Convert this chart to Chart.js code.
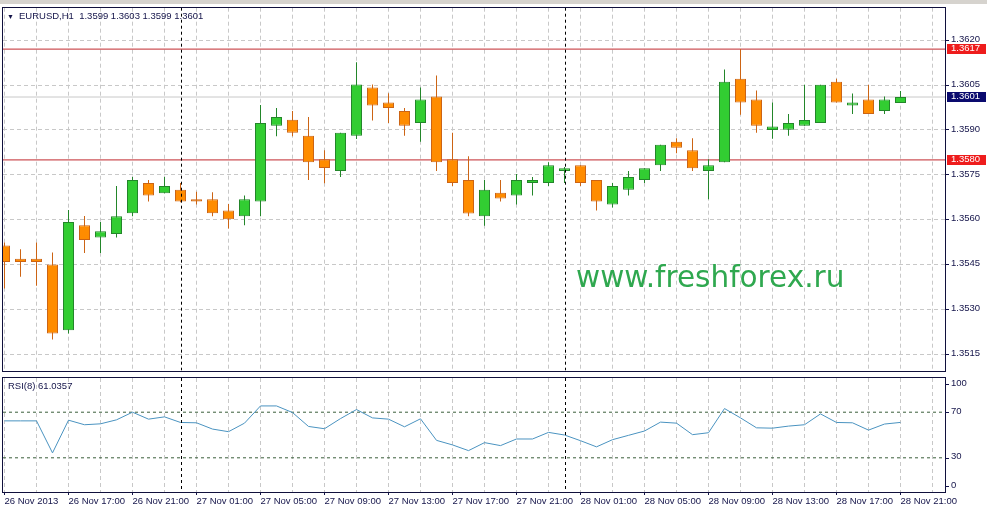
<!DOCTYPE html>
<html lang="en">
<head>
<meta charset="UTF-8">
<title>EURUSD,H1</title>
<script src="https://cdn.jsdelivr.net/npm/chart.js@4.4.1/dist/chart.umd.min.js"></script>
<style>
  body { margin: 0; background: #fff; width: 987px; height: 509px; overflow: hidden; position: relative; font-family: "Liberation Sans", Arial, sans-serif; }
  .topbar { position: absolute; left: 0; top: 0; width: 987px; height: 4px; background: #d6d3ce; }
  #mainChart { position: absolute; left: 0; top: 0; }
  #rsiChart { position: absolute; left: 0; top: 377px; }
  .caption { position: absolute; color: #14144a; font-size: 9.5px; line-height: 12px; white-space: pre; z-index: 2; }
  .caption .tri { font-size: 7px; position: absolute; left: -12px; top: 1px; }
  #watermark { position: absolute; left: 576px; top: 262px; font-family: "DejaVu Sans", sans-serif; font-size: 29.5px; line-height: 30px; color: #2fa84f; z-index: 2; }
</style>
</head>
<body>
<div class="topbar"></div>
<canvas id="mainChart" width="987" height="378"></canvas>
<canvas id="rsiChart" width="987" height="132"></canvas>
<div class="caption" id="priceCaption" style="left:19px; top:10px;"></div>
<div class="caption" id="rsiCaption" style="left:8px; top:380px;"></div>
<div id="watermark">www.freshforex.ru</div>

<script>
// EURUSD H1 candles, 26 Nov 13:00 .. 28 Nov 21:00
const symbol = 'EURUSD,H1';
const opens  = [1.35514, 1.35470, 1.35470, 1.35451, 1.35231, 1.35582, 1.35541, 1.35553, 1.35622, 1.35723,
                1.35689, 1.35700, 1.35669, 1.35669, 1.35631, 1.35612, 1.35661, 1.35914, 1.35934, 1.35881,
                1.35802, 1.35763, 1.35881, 1.36042, 1.35992, 1.35963, 1.35923, 1.36012, 1.35802, 1.35733,
                1.35612, 1.35690, 1.35681, 1.35723, 1.35723, 1.35763, 1.35782, 1.35733, 1.35651, 1.35700,
                1.35733, 1.35782, 1.35861, 1.35832, 1.35763, 1.35792, 1.36071, 1.36002, 1.35900, 1.35901,
                1.35914, 1.35923, 1.36061, 1.35982, 1.36002, 1.35963, 1.3599];
const highs  = [1.35524, 1.35502, 1.35524, 1.35491, 1.35633, 1.35613, 1.35593, 1.35713, 1.35743, 1.35733,
                1.35743, 1.35723, 1.35694, 1.35692, 1.35653, 1.35681, 1.35983, 1.35973, 1.35963, 1.35943,
                1.35832, 1.35891, 1.36126, 1.36052, 1.36023, 1.35973, 1.36042, 1.36082, 1.35891, 1.35812,
                1.35733, 1.35733, 1.35753, 1.35743, 1.35792, 1.35776, 1.35782, 1.35733, 1.35723, 1.35763,
                1.35772, 1.35851, 1.35872, 1.35872, 1.35802, 1.36102, 1.36170, 1.36032, 1.35992, 1.35953,
                1.36051, 1.36051, 1.36071, 1.36022, 1.36051, 1.36012, 1.3603];
const lows   = [1.35371, 1.35410, 1.35380, 1.35200, 1.35220, 1.35489, 1.35489, 1.35541, 1.35612, 1.35661,
                1.35689, 1.35659, 1.35651, 1.35612, 1.35571, 1.35582, 1.35612, 1.35879, 1.35879, 1.35733,
                1.35722, 1.35743, 1.35870, 1.35932, 1.35923, 1.35881, 1.35861, 1.35763, 1.35713, 1.35612,
                1.35580, 1.35661, 1.35651, 1.35681, 1.35713, 1.35723, 1.35713, 1.35631, 1.35641, 1.35681,
                1.35723, 1.35763, 1.35822, 1.35763, 1.35669, 1.35792, 1.35951, 1.35891, 1.35871, 1.35881,
                1.35914, 1.35923, 1.35992, 1.35953, 1.35953, 1.35953, 1.3599];
const closes = [1.35459, 1.35459, 1.35459, 1.35220, 1.35593, 1.35533, 1.35562, 1.35612, 1.35733, 1.35681,
                1.35713, 1.35661, 1.35661, 1.35622, 1.35602, 1.35669, 1.35923, 1.35943, 1.35891, 1.35792,
                1.35773, 1.35891, 1.36052, 1.35982, 1.35973, 1.35914, 1.36002, 1.35792, 1.35723, 1.35621,
                1.35700, 1.35671, 1.35733, 1.35733, 1.35782, 1.35772, 1.35723, 1.35661, 1.35713, 1.35743,
                1.35772, 1.35851, 1.35841, 1.35772, 1.35782, 1.36061, 1.35992, 1.35914, 1.35912, 1.35923,
                1.35933, 1.36051, 1.35992, 1.35992, 1.35953, 1.36002, 1.3601];
const rsiValues = [62.4, 62.4, 62.4, 34.3, 63.0, 59.0, 59.8, 63.3, 70.0, 63.9,
                   65.9, 61.0, 60.7, 55.2, 52.9, 60.4, 75.5, 75.5, 69.7, 57.5,
                   55.5, 64.4, 72.3, 65.0, 63.9, 57.2, 64.2, 45.3, 41.3, 36.3,
                   43.3, 40.7, 46.5, 46.5, 52.3, 50.0, 45.0, 39.6, 45.9, 49.7,
                   53.5, 61.3, 60.4, 50.3, 52.0, 73.2, 65.0, 56.3, 56.0, 57.8,
                   59.0, 68.5, 61.0, 60.7, 54.3, 59.6, 61.0357];
const rsiName = 'RSI(8)';

const priceTicks = [1.3515, 1.3530, 1.3545, 1.3560, 1.3575, 1.3590, 1.3605, 1.3620];
const levelLines = [1.3617, 1.3580];
const rsiLevels = [30, 70];
const rsiTicks = [0, 30, 70, 100];
const timeLabels = ['26 Nov 2013', '26 Nov 17:00', '26 Nov 21:00', '27 Nov 01:00', '27 Nov 05:00',
                    '27 Nov 09:00', '27 Nov 13:00', '27 Nov 17:00', '27 Nov 21:00', '28 Nov 01:00',
                    '28 Nov 05:00', '28 Nov 09:00', '28 Nov 13:00', '28 Nov 17:00', '28 Nov 21:00'];
const dayStarts = [11, 35];   // candle index of 00:00

// view
const X_MIN = -0.09375, X_MAX = 58.78125;
const Y_MIN = 1.350975, Y_MAX = 1.3630828;
const AXIS_W = 42;
const INK = '#14144a';
const FRAME = '#10103c';
const GRID = '#c8c8c8';
const FONT = { family: '"Liberation Sans", Arial, sans-serif', size: 9.5 };

Chart.defaults.font.family = FONT.family;
Chart.defaults.font.size = FONT.size;
Chart.defaults.color = INK;

const last = closes.length - 1;
document.getElementById('priceCaption').innerHTML = '<span class="tri">\u25BC</span>' + symbol + '  ' +
  [opens[last], highs[last], lows[last], closes[last]].map(v => v.toFixed(4)).join(' ');
document.getElementById('rsiCaption').textContent = rsiName + ' ' + rsiValues[last].toFixed(4);

const up = closes.map((c, i) => c >= opens[i]);
const bodyFill = up.map(u => u ? '#32cd32' : '#ff8c00');
const edge = up.map(u => u ? '#23862a' : '#cc6414');

function xAxis(withLabels) {
  return {
    type: 'linear', min: X_MIN, max: X_MAX, offset: false,
    afterBuildTicks: s => {
      const t = [];
      for (let v = 0; v <= X_MAX; v += 2) t.push({ value: v });
      s.ticks = t;
    },
    grid: {
      color: GRID, offset: false, drawTicks: withLabels, tickLength: 3,
      tickColor: c => (c.tick && c.tick.value % 4 === 0) ? INK : 'rgba(0,0,0,0)'
    },
    border: { display: false, dash: [4, 3] },
    ticks: {
      display: withLabels, autoSkip: false, maxRotation: 0, minRotation: 0,
      align: 'start', padding: 1, color: INK,
      callback: v => v % 4 === 0 ? (timeLabels[v / 4] || '') : ''
    },
    afterFit: s => { s.height = withLabels ? 17 : 0; }
  };
}

function vline(ctx, area, x) {
  ctx.save();
  ctx.strokeStyle = '#000';
  ctx.lineWidth = 1;
  ctx.setLineDash([3, 3]);
  ctx.beginPath();
  ctx.moveTo(Math.round(x) + 0.5, area.top);
  ctx.lineTo(Math.round(x) + 0.5, area.bottom);
  ctx.stroke();
  ctx.restore();
}

function frame(ctx, area) {
  ctx.save();
  ctx.strokeStyle = FRAME;
  ctx.lineWidth = 1;
  ctx.strokeRect(Math.round(area.left) - 0.5, Math.round(area.top) - 0.5,
                 Math.round(area.right - area.left) + 1, Math.round(area.bottom - area.top) + 1);
  ctx.restore();
}

function tagBox(ctx, area, y, text, bg) {
  ctx.save();
  ctx.fillStyle = bg;
  ctx.fillRect(area.right + 2, Math.round(y) - 5, 39, 10);
  ctx.fillStyle = '#fff';
  ctx.font = FONT.size + 'px ' + FONT.family;
  ctx.textAlign = 'left';
  ctx.textBaseline = 'middle';
  ctx.fillText(text, area.right + 6, Math.round(y) - 1);
  ctx.restore();
}

const mainOverlay = {
  id: 'mainOverlay',
  afterDatasetsDraw(chart) {
    const { ctx, chartArea, scales } = chart;
    dayStarts.forEach(d => vline(ctx, chartArea, scales.x.getPixelForValue(d)));
  },
  afterDraw(chart) {
    const { ctx, chartArea, scales } = chart;
    frame(ctx, chartArea);
    levelLines.forEach(l => tagBox(ctx, chartArea, scales.y.getPixelForValue(l), l.toFixed(4), '#ee1c1c'));
    tagBox(ctx, chartArea, scales.y.getPixelForValue(closes[last]), closes[last].toFixed(4), '#0a0a6e');
  }
};

const rsiOverlay = {
  id: 'rsiOverlay',
  afterDatasetsDraw(chart) {
    const { ctx, chartArea, scales } = chart;
    dayStarts.forEach(d => vline(ctx, chartArea, scales.x.getPixelForValue(d)));
  },
  afterDraw(chart) {
    const { ctx, chartArea, scales } = chart;
    frame(ctx, chartArea);
    ctx.save();
    ctx.font = FONT.size + 'px ' + FONT.family;
    ctx.fillStyle = INK;
    ctx.strokeStyle = INK;
    ctx.textAlign = 'left';
    ctx.textBaseline = 'middle';
    rsiTicks.forEach(v => {
      let y = scales.y.getPixelForValue(v);
      y = Math.min(Math.max(y, chartArea.top + 6), chartArea.bottom - 6);
      ctx.beginPath();
      ctx.moveTo(chartArea.right, Math.round(y) + 0.5);
      ctx.lineTo(chartArea.right + 4, Math.round(y) + 0.5);
      ctx.stroke();
      ctx.fillText(String(v), chartArea.right + 6, y - 1);
    });
    ctx.restore();
  }
};

const flatLine = (y, color, dash, order) => ({
  type: 'line',
  data: [{ x: X_MIN, y: y }, { x: X_MAX, y: y }],
  borderColor: color, borderWidth: 1, borderDash: dash,
  pointRadius: 0, order: order
});

new Chart(document.getElementById('mainChart'), {
  type: 'bar',
  data: {
    datasets: [
      {
        label: 'body',
        data: opens.map((o, i) => ({ x: i, y: [o, closes[i]] })),
        backgroundColor: bodyFill, borderColor: edge, borderWidth: 1,
        borderSkipped: false, barThickness: 11, grouped: false,
        minBarLength: 2, inflateAmount: 0, order: 0
      },
      {
        label: 'wick',
        data: lows.map((l, i) => ({ x: i, y: [l, highs[i]] })),
        backgroundColor: edge, borderWidth: 0,
        barThickness: 1, grouped: false, inflateAmount: 0, order: 1
      },
      flatLine(levelLines[0], '#c0282d', [], 2),
      flatLine(levelLines[1], '#c0282d', [], 2),
      flatLine(closes[last], '#c8c8c8', [], 3)
    ]
  },
  options: {
    responsive: false, animation: false, events: [],
    layout: { padding: { left: 3, top: 7, right: 0, bottom: 2 } },
    plugins: { legend: { display: false }, tooltip: { enabled: false } },
    scales: {
      x: xAxis(false),
      y: {
        type: 'linear', position: 'right', min: Y_MIN, max: Y_MAX, beginAtZero: false,
        afterBuildTicks: s => { s.ticks = priceTicks.map(v => ({ value: v })); },
        grid: { color: GRID, drawTicks: true, tickLength: 4, tickColor: INK },
        border: { display: true, color: FRAME, dash: [4, 3] },
        ticks: { color: INK, padding: 2, labelOffset: -1, callback: v => v.toFixed(4) },
        afterFit: s => { s.width = AXIS_W; }
      }
    }
  },
  plugins: [mainOverlay]
});

new Chart(document.getElementById('rsiChart'), {
  type: 'line',
  data: {
    datasets: [
      {
        label: rsiName,
        data: rsiValues.map((v, i) => ({ x: i, y: v })),
        borderColor: '#4a93c0', borderWidth: 1, pointRadius: 0, tension: 0, order: 0
      },
      flatLine(rsiLevels[0], '#3b5f3b', [3, 3], 1),
      flatLine(rsiLevels[1], '#3b5f3b', [3, 3], 1)
    ]
  },
  options: {
    responsive: false, animation: false, events: [],
    layout: { padding: { left: 3, top: 1, right: 0, bottom: 0 } },
    plugins: { legend: { display: false }, tooltip: { enabled: false } },
    scales: {
      x: xAxis(true),
      y: {
        type: 'linear', position: 'right', min: 0, max: 100,
        grid: { display: false },
        border: { display: true, color: FRAME },
        ticks: { display: false },
        afterFit: s => { s.width = AXIS_W; }
      }
    }
  },
  plugins: [rsiOverlay]
});
</script>
</body>
</html>
